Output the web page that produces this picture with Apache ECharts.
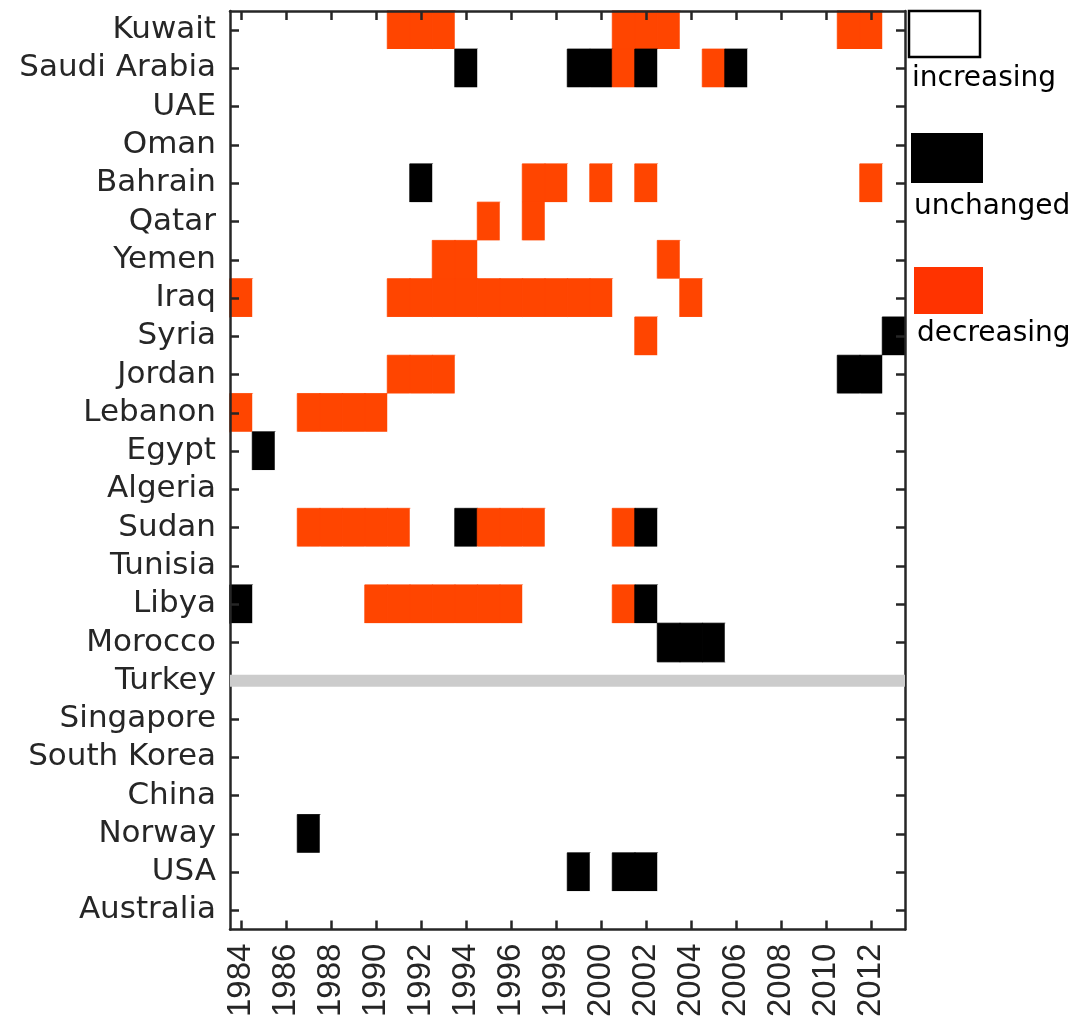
<!DOCTYPE html>
<html>
<head>
<meta charset="utf-8">
<script src="https://cdn.jsdelivr.net/npm/echarts@6/dist/echarts.min.js"></script>
<style>
  html, body { margin: 0; padding: 0; background: #ffffff; }
  #chart { width: 1088px; height: 1020px; }
</style>
</head>
<body>
<div id="chart"></div>
<script>
// Years shown on the horizontal axis (one column per year)
const years = [1984, 1985, 1986, 1987, 1988, 1989, 1990, 1991, 1992, 1993,
               1994, 1995, 1996, 1997, 1998, 1999, 2000, 2001, 2002, 2003,
               2004, 2005, 2006, 2007, 2008, 2009, 2010, 2011, 2012, 2013];

// Countries, top to bottom
const countries = ['Kuwait', 'Saudi Arabia', 'UAE', 'Oman', 'Bahrain', 'Qatar',
                   'Yemen', 'Iraq', 'Syria', 'Jordan', 'Lebanon', 'Egypt',
                   'Algeria', 'Sudan', 'Tunisia', 'Libya', 'Morocco', 'Turkey',
                   'Singapore', 'South Korea', 'China', 'Norway', 'USA', 'Australia'];

// Status categories and their colours
const statusNames = ['increasing', 'unchanged', 'decreasing'];
const statusColors = ['#ffffff', '#000000', '#ff4500'];
const legendColors = ['#ffffff', '#000000', '#ff3300'];

// Years with an unchanged value, one list per country (same order as countries)
const unchangedYears = [
  [],                                   // Kuwait
  [1994, 1999, 2000, 2002, 2006],       // Saudi Arabia
  [],                                   // UAE
  [],                                   // Oman
  [1992],                               // Bahrain
  [],                                   // Qatar
  [],                                   // Yemen
  [],                                   // Iraq
  [2013],                               // Syria
  [2011, 2012],                         // Jordan
  [],                                   // Lebanon
  [1985],                               // Egypt
  [],                                   // Algeria
  [1994, 2002],                         // Sudan
  [],                                   // Tunisia
  [1984, 2002],                         // Libya
  [2003, 2004, 2005],                   // Morocco
  [],                                   // Turkey
  [],                                   // Singapore
  [],                                   // South Korea
  [],                                   // China
  [1987],                               // Norway
  [1999, 2001, 2002],                   // USA
  []                                    // Australia
];

// Years with a decreasing value, one list per country
const decreasingYears = [
  [1991, 1992, 1993, 2001, 2002, 2003, 2011, 2012],                   // Kuwait
  [2001, 2005],                                                       // Saudi Arabia
  [],                                                                 // UAE
  [],                                                                 // Oman
  [1997, 1998, 2000, 2002, 2012],                                     // Bahrain
  [1995, 1997],                                                       // Qatar
  [1993, 1994, 2003],                                                 // Yemen
  [1984, 1991, 1992, 1993, 1994, 1995, 1996, 1997, 1998, 1999, 2000, 2004], // Iraq
  [2002],                                                             // Syria
  [1991, 1992, 1993],                                                 // Jordan
  [1984, 1987, 1988, 1989, 1990],                                     // Lebanon
  [],                                                                 // Egypt
  [],                                                                 // Algeria
  [1987, 1988, 1989, 1990, 1991, 1995, 1996, 1997, 2001],             // Sudan
  [],                                                                 // Tunisia
  [1990, 1991, 1992, 1993, 1994, 1995, 1996, 2001],                   // Libya
  [],                                                                 // Morocco
  [],                                                                 // Turkey
  [],                                                                 // Singapore
  [],                                                                 // South Korea
  [],                                                                 // China
  [],                                                                 // Norway
  [],                                                                 // USA
  []                                                                  // Australia
];

// Rows without data, drawn as a grey bar
const noDataCountries = ['Turkey'];

// ---- build heatmap cells: [yearIndex, countryIndex, statusIndex]
// each cell gets a thin border in its own colour so neighbours join without seams
const cells = [];
countries.forEach((c, i) => {
  if (noDataCountries.includes(c)) return;
  years.forEach((y, j) => {
    let s = 0;
    if (unchangedYears[i].includes(y)) s = 1;
    else if (decreasingYears[i].includes(y)) s = 2;
    cells.push({
      value: [j, i, s],
      itemStyle: { borderColor: statusColors[s], borderWidth: s === 0 ? 0 : 0.8 }
    });
  });
});

const FONT = '"DejaVu Sans", sans-serif';
const YEAR_FONT = '"Liberation Sans", Arial, sans-serif';
const INK = '#262626';
const yearLabels = years.map(String);

const axisLine = { show: true, onZero: false, lineStyle: { color: INK, width: 2.5 } };
const tick = (interval) => ({
  show: true, inside: true, length: 9, alignWithLabel: true, interval: interval,
  lineStyle: { color: INK, width: 2.5 }
});

// legend swatches + captions on the right
const legendLayout = [
  { box: [909, 11, 71, 46], textY: 79 },
  { box: [911, 133, 72, 50], textY: 207 },
  { box: [914, 267, 69, 47], textY: 334 }
];
const legendGraphics = [];
statusNames.forEach((name, k) => {
  const L = legendLayout[k];
  legendGraphics.push({
    type: 'rect',
    shape: { x: L.box[0], y: L.box[1], width: L.box[2], height: L.box[3] },
    style: { fill: legendColors[k], stroke: k === 0 ? '#000000' : null, lineWidth: k === 0 ? 2.5 : 0 },
    silent: true
  });
  legendGraphics.push({
    type: 'text',
    x: L.box[0] + 3, y: L.textY,
    style: { text: name, fill: '#000000', font: '28px ' + FONT, textVerticalAlign: 'middle', textAlign: 'left' },
    silent: true
  });
});

const chart = echarts.init(document.getElementById('chart'), null, { renderer: 'canvas' });
chart.setOption({
  animation: false,
  backgroundColor: '#ffffff',
  grid: { left: 230, top: 11, width: 675, height: 919, containLabel: false },
  xAxis: [
    {
      type: 'category', data: yearLabels, position: 'bottom', z: 5,
      axisLine: axisLine, axisTick: tick(1), splitLine: { show: false },
      axisLabel: { interval: 1, rotate: 90, margin: 14, fontSize: 33, color: INK, fontFamily: YEAR_FONT }
    },
    {
      type: 'category', data: yearLabels, position: 'top', z: 5,
      axisLine: axisLine, axisTick: tick(1), splitLine: { show: false },
      axisLabel: { show: false }
    },
    { type: 'value', min: 0, max: 1, show: false }
  ],
  yAxis: [
    {
      type: 'category', data: countries, inverse: true, position: 'left', z: 5,
      axisLine: axisLine, axisTick: tick(0), splitLine: { show: false },
      axisLabel: { interval: 0, margin: 14, fontSize: 31, color: INK, fontFamily: FONT }
    },
    {
      type: 'category', data: countries, inverse: true, position: 'right', z: 5,
      axisLine: axisLine, axisTick: tick(0), splitLine: { show: false },
      axisLabel: { show: false }
    }
  ],
  visualMap: {
    type: 'piecewise', show: false, dimension: 2, seriesIndex: 0,
    pieces: statusNames.map((n, k) => ({ value: k, color: statusColors[k], label: n }))
  },
  series: [
    {
      type: 'heatmap', xAxisIndex: 0, yAxisIndex: 0, data: cells,
      emphasis: { disabled: true }, silent: true
    },
    {
      type: 'line', xAxisIndex: 2, yAxisIndex: 0, z: 10, silent: true,
      symbol: 'none',
      lineStyle: { color: '#cccccc', width: 12 },
      data: noDataCountries.flatMap(c => [[0, c], [1, c], [null, null]])
    }
  ],
  graphic: legendGraphics
});
</script>
</body>
</html>
